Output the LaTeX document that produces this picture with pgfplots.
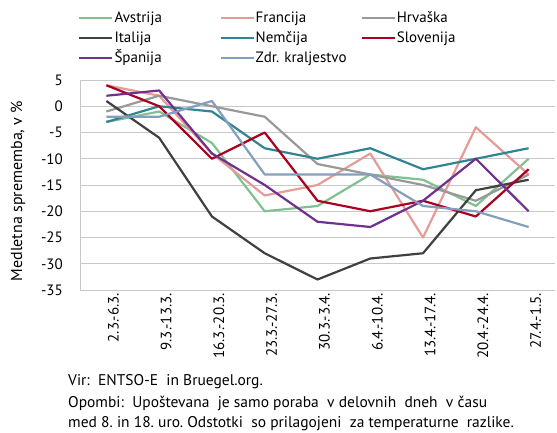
\documentclass[border=0pt]{standalone}
\usepackage{fontspec}
\setmainfont{PT Sans}
\usepackage{pgfplots}
\usepackage{pgfplotstable}
\pgfplotsset{compat=1.18}
\frenchspacing
\definecolor{cAvs}{RGB}{127,194,143}
\definecolor{cFra}{RGB}{229,156,150}
\definecolor{cHrv}{RGB}{153,153,153}
\definecolor{cIta}{RGB}{64,64,64}
\definecolor{cNem}{RGB}{49,133,145}
\definecolor{cSlo}{RGB}{168,0,30}
\definecolor{cSpa}{RGB}{112,48,140}
\definecolor{cZdr}{RGB}{132,158,190}
\definecolor{cGrid}{RGB}{200,200,200}
\pgfplotstableread{
x Avs Fra Hrv Ita Nem Slo Spa Zdr
0 -3 4 -1 1 -3 4 2 -2
1 -1 2 2 -6 0 0 3 -2
2 -7 -9 0 -21 -1 -10 -9 1
3 -20 -17 -2 -28 -8 -5 -15 -13
4 -19 -15 -11 -33 -10 -18 -22 -13
5 -13 -9 -13 -29 -8 -20 -23 -13
6 -14 -25 -15 -28 -12 -18 -18 -19
7 -19 -4 -18 -16 -10 -21 -10 -20
8 -10 -13 -13 -14 -8 -12 -20 -23
}\datatable
\begin{document}
\begin{tikzpicture}
\path[use as bounding box] (0pt,0pt) rectangle (557pt,432pt);
\begin{axis}[
  at={(80pt,142pt)}, anchor=south west,
  scale only axis, width=475pt, height=210pt,
  xmin=-0.5, xmax=8.5, ymin=-35, ymax=5,
  xtick={0,...,8},
  xticklabels={2.3.-6.3.,9.3.-13.3.,16.3.-20.3.,23.3.-27.3.,30.3.-3.4.,6.4.-10.4.,13.4.-17.4.,20.4.-24.4.,27.4.-1.5.},
  ytick={-35,-30,-25,-20,-15,-10,-5,0,5},
  yticklabels={-35,-30,-25,-20,-15,-10,-5,0,5},
  axis x line*=bottom, axis y line*=left,
  axis line style={cGrid, line width=0.8pt, -},
  major tick length=0pt,
  ymajorgrids, grid style={cGrid, line width=0.8pt},
  xticklabel style={rotate=90, anchor=east, font=\fontsize{15}{17}\selectfont, inner sep=0pt, yshift=-7pt, xshift=-3pt},
  yticklabel style={anchor=east, font=\fontsize{15}{17}\selectfont, inner sep=0pt, xshift=-17pt},
  every axis plot/.append style={line width=2.2pt, no markers, line join=round},
  legend columns=3,
  legend style={at={(axis description cs:-0.004,1.333)}, anchor=north west, draw=none, fill=none,
    font=\fontsize{15}{17}\selectfont, row sep=4pt, inner sep=0pt,
    /tikz/every even column/.append style={text width=104pt, column sep=0pt},
    nodes={inner sep=1pt, text height=11pt, text depth=3pt}},
  legend cell align=left,
  legend image code/.code={\draw[#1] (0pt,0pt) -- (33pt,0pt);},
]
\addplot[cAvs] table[x=x,y=Avs]{\datatable}; \addlegendentry{Avstrija}
\addplot[cFra] table[x=x,y=Fra]{\datatable}; \addlegendentry{Francija}
\addplot[cHrv] table[x=x,y=Hrv]{\datatable}; \addlegendentry{Hrvaška}
\addplot[cIta] table[x=x,y=Ita]{\datatable}; \addlegendentry{Italija}
\addplot[cNem] table[x=x,y=Nem]{\datatable}; \addlegendentry{Nemčija}
\addplot[cSlo] table[x=x,y=Slo]{\datatable}; \addlegendentry{Slovenija}
\addplot[cSpa] table[x=x,y=Spa]{\datatable}; \addlegendentry{Španija}
\addplot[cZdr] table[x=x,y=Zdr]{\datatable}; \addlegendentry{Zdr. kraljestvo}
\end{axis}
\node[rotate=90, font=\fontsize{16}{18}\selectfont] at (18pt,241pt) {Medletna sprememba, v \%};
\node[anchor=west, font=\fontsize{15.5}{17}\selectfont, inner sep=0pt] at (68pt,50pt) {Vir: \ ENTSO-E \ in Bruegel.org.};
\node[anchor=west, font=\fontsize{15.5}{17}\selectfont, inner sep=0pt] at (68pt,29pt) {Opombi: \ Upoštevana \ je samo poraba \ v delovnih \ dneh \ v času};
\node[anchor=west, font=\fontsize{15.5}{17}\selectfont, inner sep=0pt] at (68pt,8pt) {med 8. in 18. uro. Odstotki \ so prilagojeni \ za temperaturne \ razlike.};
\end{tikzpicture}
\end{document}
